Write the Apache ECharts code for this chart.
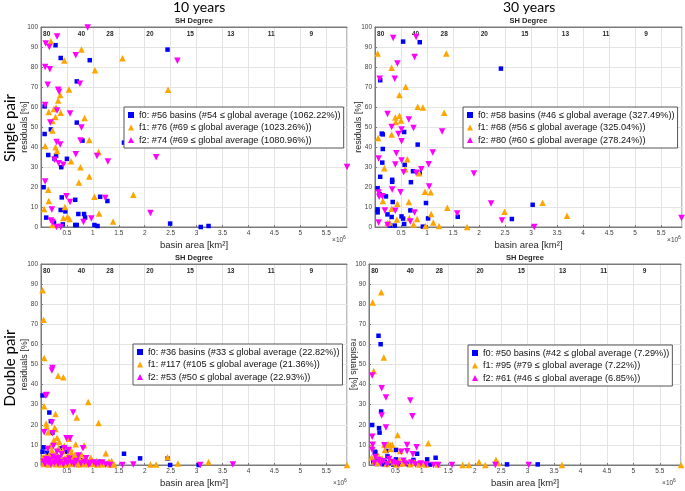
<!DOCTYPE html>
<html><head><meta charset="utf-8">
<script src="https://cdn.jsdelivr.net/npm/echarts@6/dist/echarts.min.js"></script>
<style>html,body{margin:0;padding:0;background:#fff}#c{width:685px;height:491px}</style>
</head><body><div id="c"></div>
<script>
// ---- SH degree (top axis) ----
const shDegrees = ['80','40','28','20','15','13','11','9'];
const shPositions = [0.11, 0.78, 1.33, 2.10, 2.88, 3.66, 4.44, 5.21]; // basin area, 10^6 km^2
const xTicksMax = 5.9;

// ---- Legend texts ----
const tlLabels = ['f0: #56 basins (#54 \u2264 global average (1062.22%))','f1: #76 (#69 \u2264 global average (1023.26%))','f2: #74 (#69 \u2264 global average (1080.96%))'];
const trLabels = ['f0: #58 basins (#46 \u2264 global average (327.49%))','f1: #68 (#56 \u2264 global average (325.04%))','f2: #80 (#60 \u2264 global average (278.24%))'];
const blLabels = ['f0: #36 basins (#33 \u2264 global average (22.82%))','f1: #117 (#105 \u2264 global average (21.36%))','f2: #53 (#50 \u2264 global average (22.93%))'];
const brLabels = ['f0: #50 basins (#42 \u2264 global average (7.29%))','f1: #95 (#79 \u2264 global average (7.22%))','f2: #61 (#46 \u2264 global average (6.85%))'];

// ---- Single pair, 10 years ----
const tl_f0 = [[0.28,90.9],[2.44,88.7],[0.38,84.5],[0.94,83.4],[0.69,72.8],[0.07,60.3],[0.19,48.8],[0.07,46.5],[0.69,52.2],[0.80,43.2],[1.60,42.2],[0.14,36.0],[0.29,35.7],[0.26,34.2],[0.50,34.1],[0.39,29.9],[0.05,19.9],[0.40,14.8],[0.66,13.6],[1.14,15.1],[1.28,13.0],[0.38,8.5],[0.47,7.8],[0.10,4.7],[0.72,6.5],[0.83,6.5],[0.85,4.7],[0.25,2.2],[0.42,1.3],[0.66,1.0],[0.69,1.0],[1.03,1.0],[1.09,0.5],[2.49,1.7],[3.08,0.0],[3.23,0.5]];
const tl_f1 = [[0.19,92.9],[0.78,88.7],[0.45,83.2],[1.57,84.4],[1.04,78.4],[2.45,68.6],[0.54,68.8],[0.37,66.0],[0.33,63.3],[0.25,59.0],[0.29,59.8],[0.15,57.5],[0.38,57.1],[0.28,55.0],[0.84,54.5],[0.22,53.0],[0.22,48.2],[0.93,43.5],[0.08,40.5],[0.28,39.9],[0.31,38.0],[1.11,37.5],[0.58,32.9],[0.76,29.9],[0.93,25.2],[0.73,22.3],[0.14,18.6],[0.15,13.0],[1.78,16.1],[1.03,15.1],[0.46,10.0],[0.06,9.0],[1.12,6.8],[0.51,5.1],[0.43,4.5],[0.55,4.0],[1.39,2.8],[0.22,1.0]];
const tl_f2 = [[0.90,99.7],[0.09,91.7],[0.31,95.3],[0.16,90.0],[0.67,85.9],[2.63,83.1],[0.08,80.0],[0.17,78.9],[0.13,71.1],[0.75,71.6],[0.33,68.6],[0.35,67.6],[0.08,61.0],[0.31,58.3],[0.56,56.8],[0.18,52.2],[0.78,49.8],[0.76,43.2],[0.30,42.5],[0.37,41.2],[1.08,35.5],[0.67,36.4],[2.22,34.9],[1.29,32.7],[0.26,33.6],[0.34,31.9],[0.43,31.1],[0.08,22.8],[0.49,15.4],[0.56,12.5],[1.24,14.5],[0.21,8.8],[2.11,7.0],[0.97,4.2],[0.82,2.5],[0.19,3.2],[0.22,2.5],[0.30,0.0],[0.38,0.0],[5.9,30.0]];

// ---- Single pair, 30 years ----
const tr_f0 = [[0.54,92.7],[0.86,92.4],[2.42,79.2],[0.10,73.4],[0.13,46.7],[0.15,46.3],[0.56,47.5],[0.82,41.2],[0.15,39.0],[0.14,32.2],[0.57,31.1],[0.73,27.9],[0.86,27.2],[0.10,25.1],[0.69,22.4],[0.33,23.6],[0.33,22.6],[0.05,19.4],[0.09,16.3],[0.21,15.3],[0.34,12.5],[0.98,12.0],[3.03,11.1],[0.05,8.8],[0.05,7.3],[0.68,8.3],[0.32,5.0],[0.51,5.3],[0.54,4.2],[1.02,4.3],[1.59,5.1],[2.63,4.0],[0.24,6.3],[0.29,0.7],[0.38,0.7],[0.56,1.5],[0.92,0.2]];
const tr_f1 = [[0.05,86.7],[1.37,86.7],[0.32,79.6],[0.59,70.1],[0.47,66.0],[0.82,60.1],[0.92,59.8],[1.33,57.1],[0.39,54.8],[0.47,55.6],[0.50,53.2],[0.40,52.5],[0.32,46.2],[0.06,44.5],[0.18,29.4],[0.62,33.9],[0.58,28.9],[0.85,26.9],[0.96,17.6],[1.07,17.4],[0.15,13.0],[0.43,11.6],[0.65,12.5],[3.22,12.1],[1.39,9.6],[0.32,9.1],[1.08,6.5],[3.69,5.6],[2.49,7.6],[0.81,4.0],[0.42,3.7],[0.66,4.5],[0.28,2.3],[1.12,2.3],[0.74,1.2],[0.97,0.5],[1.23,0.5],[1.77,0.0],[0.24,2.0]];
const tr_f2 = [[0.35,94.5],[0.79,95.0],[0.76,85.0],[0.43,81.7],[0.09,74.1],[0.38,74.1],[0.24,56.5],[0.65,53.8],[0.32,50.0],[0.74,49.5],[0.51,48.7],[0.45,46.5],[1.29,47.8],[0.51,42.9],[0.41,36.9],[1.11,37.2],[0.07,34.2],[0.51,33.2],[0.39,31.2],[1.03,31.4],[1.90,26.7],[0.89,28.9],[0.55,27.4],[0.79,27.1],[1.04,20.3],[0.33,18.8],[0.07,17.3],[0.14,15.4],[0.49,17.4],[0.08,15.1],[2.23,11.8],[1.58,6.8],[0.39,8.1],[0.76,7.3],[0.19,8.3],[0.07,2.2],[0.68,2.7],[2.44,3.3],[3.06,0.0],[5.89,4.5],[0.24,1.0]];

// ---- Double pair, 10 years ----
const bl_f0 = [[0.03,34.6],[0.16,26.1],[0.19,21.8],[0.22,16.1],[0.05,8.8],[0.03,6.6],[0.37,8.3],[1.60,5.6],[1.91,3.3],[2.44,3.2],[2.49,0.0],[3.04,0.0],[0.11,3.3],[0.72,3.6],[0.49,6.6],[0.08,1.5],[0.14,0.5],[0.20,1.2],[0.27,0.3],[0.33,2.1],[0.41,0.8],[0.47,1.8],[0.55,0.4],[0.62,1.1],[0.68,0.2],[0.76,2.4],[0.83,0.6],[0.90,1.4],[0.97,0.3],[1.05,0.9],[1.12,1.6],[0.30,4.2],[0.58,2.8],[0.12,6.1],[0.06,2.5],[0.25,0.9]];
const bl_f1 = [[0.03,86.9],[0.05,72.3],[0.06,53.2],[0.33,44.4],[0.43,43.7],[0.91,31.4],[0.06,29.2],[0.28,25.4],[0.69,23.6],[1.11,20.9],[0.10,20.6],[0.11,19.1],[0.26,18.4],[0.28,17.9],[0.14,16.3],[0.31,13.6],[0.25,12.5],[0.35,11.6],[0.54,13.1],[0.67,10.3],[0.83,9.8],[0.18,9.5],[0.58,6.3],[1.25,5.8],[0.45,9.6],[0.04,3.8],[0.65,5.0],[2.44,3.8],[3.23,1.5],[2.64,0.8],[2.11,0.3],[2.22,0.3],[1.41,0.3],[1.36,2.0],[1.31,1.7],[1.23,0.8],[0.94,2.5],[0.98,1.7],[1.07,2.0],[0.75,2.3],[0.78,5.3],[0.05,0.5],[0.07,2.1],[0.09,4.6],[0.12,1.2],[0.13,3.1],[0.15,0.3],[0.17,5.6],[0.19,2.4],[0.21,7.4],[0.22,0.9],[0.24,3.8],[0.27,1.5],[0.29,6.2],[0.30,0.4],[0.32,2.7],[0.34,8.5],[0.36,1.1],[0.38,4.3],[0.39,0.2],[0.41,2.2],[0.42,6.8],[0.44,0.7],[0.46,3.4],[0.48,1.6],[0.50,0.3],[0.52,4.8],[0.53,2.0],[0.56,0.9],[0.57,7.9],[0.60,1.4],[0.61,3.7],[0.63,0.5],[0.66,2.6],[0.70,1.0],[0.72,4.1],[0.74,0.3],[0.77,1.9],[0.80,0.6],[0.82,3.0],[0.85,1.3],[0.87,0.4],[0.89,2.2],[0.93,0.8],[0.96,3.6],[1.00,0.5],[1.03,1.4],[1.09,0.3],[1.15,1.0],[1.19,0.4],[1.28,0.9],[1.33,0.2],[5.9,0.0]];
const bl_f2 = [[0.22,48.2],[0.21,47.0],[0.09,34.6],[0.11,34.8],[0.62,26.1],[0.21,21.1],[0.06,16.3],[0.22,15.8],[0.49,13.3],[0.56,13.3],[0.24,9.5],[0.45,8.3],[0.81,8.3],[0.13,8.0],[0.31,6.6],[0.53,7.5],[0.40,5.3],[0.72,4.7],[0.87,3.3],[1.02,1.3],[1.12,0.8],[1.57,0.0],[1.78,0.3],[3.07,0.0],[3.70,0.3],[1.33,0.0],[0.05,1.8],[0.08,0.5],[0.10,3.0],[0.14,1.2],[0.17,2.5],[0.19,0.3],[0.23,4.1],[0.26,1.0],[0.28,2.9],[0.33,0.6],[0.35,3.5],[0.37,1.4],[0.43,0.2],[0.47,2.2],[0.51,0.9],[0.55,3.2],[0.59,1.1],[0.64,0.4],[0.68,2.0],[0.77,0.7],[0.84,1.5],[0.92,0.2],[0.95,1.0],[1.06,0.4],[1.18,1.2],[1.25,0.3]];

// ---- Double pair, 30 years ----
const br_f0 = [[0.18,64.3],[0.22,60.1],[0.23,26.6],[0.06,19.9],[0.19,18.3],[0.20,16.1],[0.11,6.6],[0.12,6.3],[0.33,7.0],[0.35,4.3],[0.51,2.8],[0.51,7.5],[0.91,5.6],[0.84,2.5],[1.10,2.8],[1.26,3.6],[0.60,0.4],[2.61,0.3],[3.19,0.3],[0.08,1.5],[0.15,0.5],[0.22,2.0],[0.28,0.3],[0.40,1.2],[0.46,0.2],[0.66,0.8],[0.75,0.2],[0.97,0.6],[1.05,0.3],[1.15,0.2],[0.30,1.6],[0.14,3.2]];
const br_f1 = [[0.23,86.0],[0.07,80.8],[0.28,53.5],[0.09,46.8],[0.54,14.9],[0.06,9.5],[0.36,10.5],[0.44,10.1],[0.30,7.5],[0.41,8.0],[1.12,10.8],[0.18,4.5],[0.59,7.0],[0.29,10.0],[0.40,10.0],[0.10,2.0],[0.16,1.0],[0.25,3.2],[0.33,0.5],[0.38,2.4],[0.47,1.2],[0.52,0.3],[0.57,2.6],[0.63,0.8],[0.70,1.5],[0.78,0.4],[0.86,1.1],[0.95,0.2],[1.02,0.6],[1.08,0.2],[1.30,0.2],[1.77,0.0],[1.89,0.0],[2.08,1.5],[2.20,0.0],[2.40,2.6],[2.44,1.0],[3.65,0.0],[5.9,0.0],[0.05,3.8]];
const br_f2 = [[0.06,44.5],[0.24,38.2],[0.32,33.6],[0.78,32.1],[0.82,24.3],[0.24,24.6],[0.32,18.6],[0.06,14.1],[0.07,10.1],[0.06,7.5],[0.29,9.8],[0.72,10.0],[0.90,8.8],[0.61,6.6],[0.83,5.3],[0.72,6.8],[0.12,4.0],[0.18,2.5],[0.22,0.8],[0.27,1.9],[0.34,0.3],[0.45,1.5],[0.55,0.4],[0.65,2.1],[0.70,0.6],[0.80,1.2],[0.88,0.2],[0.98,0.8],[1.08,0.3],[1.22,0.0],[1.31,0.0],[1.57,0.0],[2.39,0.0],[3.02,0.0],[0.10,1.0],[0.38,3.0],[0.50,0.9]];

const panels = [
  {f0: tl_f0, f1: tl_f1, f2: tl_f2, labels: tlLabels},
  {f0: tr_f0, f1: tr_f1, f2: tr_f2, labels: trLabels},
  {f0: bl_f0, f1: bl_f1, f2: bl_f2, labels: blLabels},
  {f0: br_f0, f1: br_f1, f2: br_f2, labels: brLabels}
];

const grids = [
  {left: 41, top: 27, width: 306, height: 200},
  {left: 375, top: 27, width: 307, height: 200},
  {left: 41, top: 264, width: 306, height: 201},
  {left: 369, top: 264, width: 312, height: 201}
];
const legendPos = [
  {left: 124, top: 107}, {left: 463, top: 107},
  {left: 133, top: 344}, {left: 468, top: 345}
];
const yNameRotate = [90, 90, 90, -90];

const FONT = 'Liberation Sans';
const gridLineColor = '#e4e4e4';
const frameColor = '#7a7a7a';
const tickColor = '#404040';

const xAxis = [], yAxis = [], series = [], legend = [];
const colors = ['#0000FF', '#FFA500', '#FF00FF'];

grids.forEach(function (g, i) {
  xAxis.push({
    type: 'value', gridIndex: i, min: 0, max: xTicksMax, interval: 0.5,
    position: 'bottom',
    axisLine: {show: true, lineStyle: {color: frameColor, width: 1}},
    axisTick: {show: true, inside: true, length: 2, lineStyle: {color: frameColor}},
    axisLabel: {fontSize: 6.5, color: tickColor, fontFamily: FONT, margin: 3, showMinLabel: false, showMaxLabel: false},
    splitLine: {show: true, lineStyle: {color: gridLineColor, width: 1}},
    name: 'basin area [km\u00b2]', nameLocation: 'middle', nameGap: 13,
    nameTextStyle: {fontSize: 9.5, color: '#262626', fontFamily: FONT}
  });
  xAxis.push({
    type: 'value', gridIndex: i, min: 0, max: xTicksMax, interval: 0.01,
    position: 'top',
    axisLine: {show: true, lineStyle: {color: frameColor, width: 1}},
    axisTick: {show: false},
    splitLine: {show: false},
    axisLabel: {
      inside: true, margin: 4, fontSize: 6.5, fontWeight: 'bold', color: '#262626', fontFamily: FONT,
      showMinLabel: true, showMaxLabel: true,
      formatter: function (v) {
        for (let k = 0; k < shPositions.length; k++) {
          if (Math.abs(v - shPositions[k]) < 0.004) return shDegrees[k];
        }
        return '';
      }
    },
    name: 'SH Degree', nameLocation: 'middle', nameGap: 2,
    nameTextStyle: {fontSize: 7.5, fontWeight: 'bold', color: '#262626', fontFamily: FONT, verticalAlign: 'bottom'}
  });
  yAxis.push({
    type: 'value', gridIndex: i, min: 0, max: 100, interval: 10,
    axisLine: {show: true, lineStyle: {color: frameColor, width: 1}},
    axisTick: {show: true, inside: true, length: 2, lineStyle: {color: frameColor}},
    axisLabel: {fontSize: 6.5, color: tickColor, fontFamily: FONT, margin: 3},
    splitLine: {show: true, lineStyle: {color: gridLineColor, width: 1}},
    name: 'residuals [%]', nameLocation: 'middle', nameGap: 16, nameRotate: yNameRotate[i],
    nameMoveOverlap: false,
    nameTextStyle: {fontSize: 9, color: '#262626', fontFamily: FONT, verticalAlign: 'middle'}
  });
  const p = panels[i];
  const defs = [
    {data: p.f0, symbol: 'rect', size: 4.5, rot: 0},
    {data: p.f1, symbol: 'triangle', size: 6.5, rot: 0},
    {data: p.f2, symbol: 'triangle', size: 6.5, rot: 180}
  ];
  defs.forEach(function (d, k) {
    series.push({
      type: 'scatter', name: p.labels[k], xAxisIndex: 2 * i, yAxisIndex: i,
      data: d.data, symbol: d.symbol, symbolSize: d.size, symbolRotate: d.rot,
      itemStyle: {color: colors[k], opacity: 1}, silent: true, animation: false
    });
  });
  legend.push({
    left: legendPos[i].left, top: legendPos[i].top, orient: 'vertical',
    data: p.labels, selectedMode: false,
    backgroundColor: '#ffffff', borderColor: '#555', borderWidth: 1, borderRadius: 0,
    padding: [3, 3, 3, 4], itemGap: 2.5, itemWidth: 6, itemHeight: 6,
    textStyle: {fontSize: 9.2, color: '#111', fontFamily: FONT, lineHeight: 10}
  });
});

const graphic = [
  {type: 'text', left: 203 - 30, top: 0, style: {text: '10 years', font: '14px Lato', fill: '#000'}},
  {type: 'text', left: 533 - 30, top: 0, style: {text: '30 years', font: '14px Lato', fill: '#000'}},
  {type: 'text', x: 10, y: 128, rotation: Math.PI / 2, style: {text: 'Single pair', font: '15px Lato', fill: '#000', align: 'center', verticalAlign: 'middle'}},
  {type: 'text', x: 10, y: 368, rotation: Math.PI / 2, style: {text: 'Double pair', font: '15px Lato', fill: '#000', align: 'center', verticalAlign: 'middle'}},
  {type: 'text', x: 339, y: 240, style: {text: '\u00d710{s|6}', font: '6.5px Liberation Sans', fill: '#404040', align: 'center', verticalAlign: 'middle', rich: {s: {fontSize: 5, padding: [0, 0, 4, 0]}}}},
  {type: 'text', x: 674, y: 240, style: {text: '\u00d710{s|6}', font: '6.5px Liberation Sans', fill: '#404040', align: 'center', verticalAlign: 'middle', rich: {s: {fontSize: 5, padding: [0, 0, 4, 0]}}}},
  {type: 'text', x: 340, y: 483, style: {text: '\u00d710{s|6}', font: '6.5px Liberation Sans', fill: '#404040', align: 'center', verticalAlign: 'middle', rich: {s: {fontSize: 5, padding: [0, 0, 4, 0]}}}},
  {type: 'text', x: 669, y: 483, style: {text: '\u00d710{s|6}', font: '6.5px Liberation Sans', fill: '#404040', align: 'center', verticalAlign: 'middle', rich: {s: {fontSize: 5, padding: [0, 0, 4, 0]}}}}
];

const chart = echarts.init(document.getElementById('c'), null, {renderer: 'canvas'});
chart.setOption({
  animation: false,
  backgroundColor: '#ffffff',
  grid: grids.map(function (g) { return Object.assign({show: true, borderColor: frameColor, borderWidth: 1, backgroundColor: 'transparent'}, g); }),
  xAxis: xAxis, yAxis: yAxis, series: series, legend: legend, graphic: graphic
});
</script></body></html>
